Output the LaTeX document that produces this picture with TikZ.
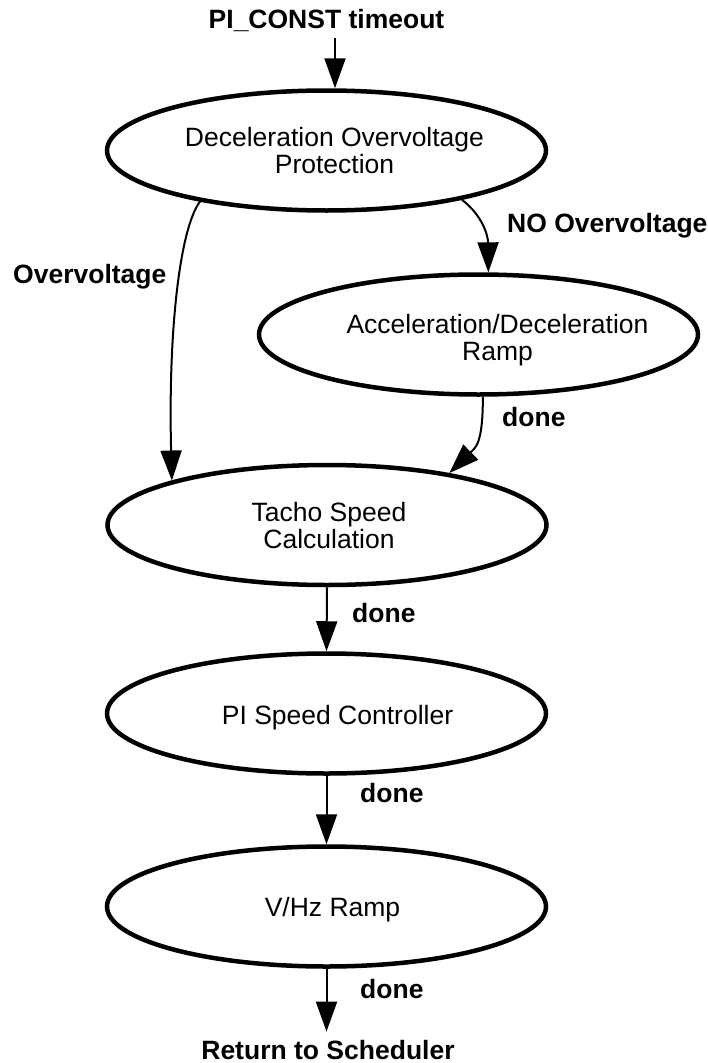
\documentclass[tikz,border=0pt]{standalone}
\usepackage{fontspec}
\setmainfont{Liberation Sans}
\usetikzlibrary{arrows.meta,shapes.geometric}
\begin{document}
\begin{tikzpicture}[x=1pt,y=-1pt,
  state/.style={ellipse, draw, line width=4.5pt, minimum width=439pt, minimum height=120pt, inner sep=0pt},
  txt/.style={font=\fontsize{26.5}{27}\selectfont, align=center, inner sep=0pt},
  lab/.style={font=\fontsize{26.5}{27}\selectfont\bfseries, inner sep=0pt},
  arr/.style={line width=2pt, -{Triangle[length=30pt,width=21pt]}}]
\useasboundingbox (0,0) rectangle (708,1063);

% states
\node[state, label={[txt,xshift=8pt]center:{Deceleration Overvoltage\\Protection}}] (dop) at (326.5,150.5) {};
\node[state, label={[txt,xshift=19pt,yshift=-6pt]center:{Acceleration/Deceleration\\Ramp}}] (acc) at (478.5,334.5) {};
\node[state, label={[txt,xshift=2pt,yshift=-1pt]center:{Tacho Speed\\Calculation}}] (tacho) at (327,525) {};
\node[state, label={[txt,xshift=11pt,yshift=-4.5pt]center:{PI Speed Controller}}] (pic) at (326.5,713.5) {};
\node[state, label={[txt,xshift=6pt,yshift=-3pt]center:{V/Hz Ramp}}] (vhz) at (326.5,906.5) {};

% entry / exit texts
\node[lab, anchor=base] (t0) at (326.5,28) {PI\_CONST timeout};
\node[lab, anchor=base] (ret) at (328,1059) {Return to Scheduler};

% edge labels
\node[lab, anchor=base west] (lno) at (507,232.5) {NO Overvoltage};
\node[lab, anchor=base west] (lov) at (13,283) {Overvoltage};
\node[lab, anchor=base west] (ld1) at (502,426) {done};
\node[lab, anchor=base west] (ld2) at (352,622) {done};
\node[lab, anchor=base west] (ld3) at (360,802) {done};
\node[lab, anchor=base west] (ld4) at (360,998) {done};

% connectors
\coordinate (s0) at (335,38);
\draw[arr] (s0) -- (s0 |- dop.north);
\draw[arr] (dop.202) .. controls (180,228) and (168,330) .. (tacho.164);
\draw[arr] (dop.340) .. controls (482,215) and (488,235) .. (acc.81);
\draw[arr] (acc.274) .. controls (483,445) and (475,448) .. (tacho.23);
\draw[arr] (tacho.south) -- (pic.north);
\draw[arr] (pic.south) -- (vhz.north);
\draw[arr] (vhz.south) -- ([yshift=8pt]ret.north -| vhz.south);
\end{tikzpicture}
\end{document}
